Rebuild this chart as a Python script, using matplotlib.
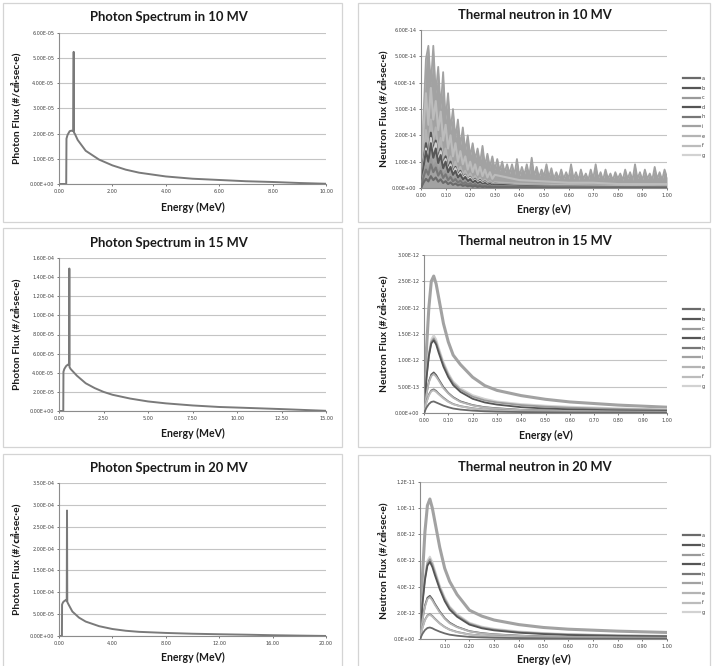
import numpy as np
import matplotlib
matplotlib.use("Agg")
import matplotlib.pyplot as plt
from matplotlib.patches import Rectangle

# ---------------- photon spectra (flux in units of 1e-5) ----------------
p10_E = [0, 0.27, 0.28, 0.32, 0.40, 0.47, 0.53, 0.55, 0.56, 0.60, 0.70, 1.0, 1.5, 2.0,
         2.5, 3.0, 4.0, 5.0, 6.0, 7.0, 8.0, 9.0, 10.0]
p10_F = [0, 0, 1.8, 1.95, 2.1, 2.12, 2.1, 5.25, 2.05, 1.98, 1.75, 1.32, 0.97, 0.74,
         0.57, 0.45, 0.30, 0.21, 0.16, 0.11, 0.08, 0.04, 0.01]

p15_E = [0, 0.24, 0.25, 0.30, 0.40, 0.50, 0.57, 0.58, 0.59, 0.65, 0.80, 1.0, 1.5, 2.0,
         2.5, 3.0, 4.0, 5.0, 6.0, 7.5, 9.0, 10.0, 12.5, 15.0]
p15_F = [0, 0, 4.1, 4.4, 4.7, 4.85, 4.8, 14.9, 4.6, 4.4, 4.1, 3.7, 2.9, 2.4,
         2.0, 1.7, 1.3, 1.0, 0.8, 0.58, 0.42, 0.36, 0.2, 0.02]

p20_E = [0, 0.22, 0.23, 0.30, 0.40, 0.50, 0.58, 0.60, 0.62, 0.70, 1.0, 1.5, 2.0, 3.0,
         4.0, 5.0, 6.0, 8.0, 10.0, 12.0, 14.0, 16.0, 18.0, 20.0]
p20_F = [0, 0, 7.2, 7.7, 8.0, 8.2, 8.0, 28.7, 7.8, 7.3, 5.6, 4.2, 3.3, 2.25,
         1.6, 1.2, 0.95, 0.7, 0.52, 0.4, 0.3, 0.18, 0.09, 0.01]

# ---------------- thermal neutron 10 MV (units of 1e-14) ----------------
E_fine = [0.00, 0.01, 0.02, 0.03, 0.04, 0.05, 0.06, 0.07, 0.08, 0.09,
          0.10, 0.11, 0.12, 0.13, 0.14, 0.15, 0.16, 0.17, 0.18, 0.19,
          0.20, 0.21, 0.22, 0.23, 0.24, 0.25, 0.26, 0.27, 0.28, 0.29,
          0.30, 0.31, 0.32, 0.33, 0.34, 0.35, 0.36, 0.37, 0.38, 0.39,
          0.40, 0.41, 0.42, 0.43, 0.44, 0.45, 0.46, 0.47, 0.48, 0.49,
          0.50, 0.51, 0.52, 0.53, 0.54, 0.55, 0.56, 0.57, 0.58, 0.59,
          0.60, 0.61, 0.62, 0.63, 0.64, 0.65, 0.66, 0.67, 0.68, 0.69,
          0.70, 0.71, 0.72, 0.73, 0.74, 0.75, 0.76, 0.77, 0.78, 0.79,
          0.80, 0.81, 0.82, 0.83, 0.84, 0.85, 0.86, 0.87, 0.88, 0.89,
          0.90, 0.91, 0.92, 0.93, 0.94, 0.95, 0.96, 0.97, 0.98, 0.99, 1.00]
E_mid = [0.00, 0.01, 0.02, 0.03, 0.04, 0.05, 0.06, 0.07, 0.08, 0.09,
         0.10, 0.11, 0.12, 0.13, 0.14, 0.15, 0.16, 0.17, 0.18, 0.19,
         0.20, 0.21, 0.22, 0.23, 0.24, 0.25, 0.26, 0.27, 0.28, 0.29,
         0.30, 0.40, 0.50, 0.60, 0.70, 0.80, 0.90, 1.00]

n10_i = [0, 2.7, 4.9, 5.4, 3.9, 5.4, 3.6, 4.6, 3.0, 4.4,
         2.6, 3.6, 2.2, 3.0, 1.9, 2.6, 1.6, 2.3, 1.4, 2.0,
         1.2, 1.7, 1.1, 1.5, 0.95, 1.6, 0.85, 1.3, 0.8, 1.2,
         0.7, 1.1, 0.65, 1.0, 0.6, 0.9, 0.55, 0.9, 0.5, 1.1,
         0.45, 0.8, 0.5, 0.9, 0.45, 1.15, 0.45, 0.8, 0.4, 0.7,
         0.45, 0.9, 0.4, 0.75, 0.35, 0.6, 0.35, 0.7, 0.35, 0.6,
         0.35, 0.9, 0.35, 0.6, 0.3, 0.7, 0.35, 0.55, 0.3, 0.7,
         0.35, 0.9, 0.35, 0.6, 0.3, 0.7, 0.35, 0.55, 0.3, 0.6,
         0.35, 0.55, 0.3, 0.7, 0.35, 0.6, 0.3, 0.9, 0.35, 0.6,
         0.3, 0.7, 0.35, 0.55, 0.3, 0.8, 0.35, 0.6, 0.3, 0.7, 0.4]
n10_f = [0, 2.2, 3.6, 2.4, 3.8, 2.6, 3.3, 2.2, 2.9, 1.8,
         2.4, 1.5, 2.0, 1.2, 1.7, 1.0, 1.4, 0.9, 1.2, 0.7,
         1.0, 0.6, 0.9, 0.5, 0.8, 0.45, 0.7, 0.4, 0.6, 0.35,
         0.5, 0.3, 0.25, 0.2, 0.2, 0.15, 0.15, 0.15]
n10_e = [0, 1.3, 2.2, 1.5, 2.6, 1.8, 2.3, 1.4, 1.9, 1.1,
         1.5, 0.9, 1.2, 0.7, 1.0, 0.6, 0.8, 0.5, 0.65, 0.4,
         0.55, 0.33, 0.45, 0.28, 0.38, 0.22, 0.32, 0.19, 0.26, 0.16,
         0.22, 0.16, 0.13, 0.11, 0.09, 0.08, 0.07, 0.06]
n10_d = [0, 1.0, 1.7, 1.2, 2.1, 1.4, 1.8, 1.1, 1.5, 0.9,
         1.2, 0.7, 1.0, 0.6, 0.8, 0.5, 0.65, 0.4, 0.5, 0.3,
         0.42, 0.25, 0.35, 0.2, 0.3, 0.17, 0.25, 0.14, 0.2, 0.12,
         0.16, 0.1, 0.08, 0.06, 0.05, 0.04, 0.035, 0.03]
n10_g = [0, 0.9, 1.5, 1.1, 1.9, 1.3, 1.7, 1.0, 1.4, 0.85,
         1.1, 0.65, 0.9, 0.55, 0.75, 0.45, 0.6, 0.37, 0.48, 0.3,
         0.4, 0.24, 0.32, 0.2, 0.27, 0.16, 0.22, 0.14, 0.18, 0.11,
         0.15, 0.1, 0.08, 0.06, 0.05, 0.045, 0.04, 0.035]
n10_b = [0, 0.8, 1.4, 1.0, 1.7, 1.15, 1.5, 0.95, 1.25, 0.75,
         1.0, 0.6, 0.8, 0.5, 0.65, 0.4, 0.52, 0.32, 0.42, 0.26,
         0.34, 0.2, 0.28, 0.17, 0.23, 0.14, 0.19, 0.12, 0.16, 0.1,
         0.13, 0.08, 0.06, 0.05, 0.04, 0.035, 0.03, 0.025]
n10_c = [0, 0.5, 0.85, 0.6, 1.1, 0.75, 0.95, 0.58, 0.8, 0.48,
         0.64, 0.38, 0.52, 0.3, 0.42, 0.25, 0.34, 0.2, 0.28, 0.16,
         0.22, 0.13, 0.18, 0.11, 0.15, 0.09, 0.12, 0.07, 0.1, 0.06,
         0.08, 0.05, 0.04, 0.03, 0.025, 0.02, 0.02, 0.015]
n10_h = [0, 0.4, 0.7, 0.5, 0.9, 0.6, 0.78, 0.47, 0.65, 0.38,
         0.52, 0.3, 0.42, 0.25, 0.34, 0.2, 0.28, 0.16, 0.22, 0.13,
         0.18, 0.1, 0.15, 0.08, 0.12, 0.07, 0.1, 0.06, 0.08, 0.05,
         0.065, 0.04, 0.03, 0.025, 0.02, 0.015, 0.015, 0.01]
n10_a = [0, 0.2, 0.35, 0.25, 0.45, 0.3, 0.4, 0.24, 0.33, 0.19,
         0.26, 0.15, 0.21, 0.12, 0.17, 0.1, 0.14, 0.08, 0.11, 0.065,
         0.09, 0.05, 0.075, 0.04, 0.06, 0.035, 0.05, 0.03, 0.04, 0.025,
         0.03, 0.02, 0.015, 0.01, 0.01, 0.008, 0.006, 0.005]

# ---------------- thermal neutron 15 / 20 MV (units of 1e-12) ----------------
E_coarse = [0.0, 0.01, 0.02, 0.03, 0.04, 0.05, 0.06, 0.08, 0.10, 0.12,
            0.15, 0.20, 0.25, 0.30, 0.40, 0.50, 0.60, 0.80, 1.00]

n15_i = [0, 1.2, 2.0, 2.5, 2.6, 2.45, 2.2, 1.7, 1.35, 1.1, 0.92, 0.68, 0.52, 0.43, 0.33, 0.26, 0.21, 0.15, 0.11]
n15_g = [0, 0.7, 1.15, 1.4, 1.48, 1.4, 1.25, 0.97, 0.76, 0.6, 0.47, 0.34, 0.27, 0.22, 0.17, 0.14, 0.12, 0.09, 0.07]
n15_c = [0, 0.67, 1.1, 1.35, 1.42, 1.34, 1.2, 0.93, 0.72, 0.57, 0.44, 0.31, 0.24, 0.2, 0.15, 0.12, 0.1, 0.075, 0.06]
n15_d = [0, 0.65, 1.08, 1.32, 1.38, 1.3, 1.15, 0.88, 0.68, 0.53, 0.4, 0.27, 0.2, 0.16, 0.11, 0.085, 0.07, 0.05, 0.04]
n15_b = [0, 0.36, 0.6, 0.73, 0.77, 0.72, 0.64, 0.49, 0.38, 0.3, 0.22, 0.15, 0.11, 0.09, 0.06, 0.05, 0.04, 0.03, 0.025]
n15_e = [0, 0.35, 0.58, 0.7, 0.74, 0.69, 0.62, 0.47, 0.37, 0.29, 0.21, 0.145, 0.105, 0.085, 0.058, 0.046, 0.038, 0.028, 0.023]
n15_h = [0, 0.21, 0.35, 0.43, 0.45, 0.42, 0.37, 0.29, 0.22, 0.17, 0.13, 0.09, 0.065, 0.05, 0.035, 0.028, 0.022, 0.017, 0.014]
n15_f = [0, 0.2, 0.33, 0.41, 0.43, 0.4, 0.355, 0.275, 0.21, 0.165, 0.125, 0.085, 0.062, 0.048, 0.034, 0.027, 0.021, 0.016, 0.013]
n15_a = [0, 0.1, 0.17, 0.21, 0.22, 0.2, 0.18, 0.14, 0.11, 0.085, 0.065, 0.045, 0.032, 0.025, 0.018, 0.014, 0.011, 0.009, 0.007]

n20_i = [0, 4.9, 8.2, 10.2, 10.7, 10.0, 9.0, 7.0, 5.4, 4.4, 3.4, 2.2, 1.75, 1.45, 1.1, 0.88, 0.75, 0.6, 0.5]
n20_g = [0, 2.9, 4.8, 6.0, 6.3, 5.9, 5.3, 4.1, 3.2, 2.5, 1.9, 1.25, 0.95, 0.78, 0.58, 0.46, 0.38, 0.3, 0.25]
n20_c = [0, 2.8, 4.65, 5.8, 6.1, 5.7, 5.1, 3.95, 3.05, 2.4, 1.8, 1.18, 0.88, 0.72, 0.53, 0.42, 0.35, 0.27, 0.22]
n20_d = [0, 2.7, 4.5, 5.6, 5.9, 5.5, 4.9, 3.8, 2.9, 2.25, 1.7, 1.1, 0.82, 0.66, 0.48, 0.38, 0.31, 0.24, 0.2]
n20_b = [0, 1.5, 2.55, 3.15, 3.3, 3.05, 2.7, 2.1, 1.6, 1.25, 0.93, 0.6, 0.45, 0.36, 0.26, 0.2, 0.17, 0.13, 0.1]
n20_e = [0, 1.45, 2.45, 3.05, 3.2, 2.95, 2.62, 2.03, 1.55, 1.2, 0.9, 0.58, 0.43, 0.35, 0.25, 0.19, 0.16, 0.12, 0.1]
n20_h = [0, 0.88, 1.47, 1.8, 1.9, 1.76, 1.56, 1.2, 0.92, 0.72, 0.54, 0.35, 0.26, 0.2, 0.15, 0.12, 0.1, 0.075, 0.06]
n20_f = [0, 0.85, 1.43, 1.75, 1.85, 1.71, 1.52, 1.17, 0.9, 0.7, 0.52, 0.34, 0.25, 0.2, 0.145, 0.115, 0.095, 0.072, 0.058]
n20_a = [0, 0.4, 0.68, 0.84, 0.88, 0.82, 0.72, 0.56, 0.43, 0.33, 0.25, 0.16, 0.12, 0.095, 0.07, 0.055, 0.045, 0.035, 0.028]

series_names = ["a", "b", "c", "d", "h", "i", "e", "f", "g"]
series_colors = {"a": "#6a6a6a", "b": "#565656", "c": "#9a9a9a", "d": "#555555", "h": "#777777",
                 "i": "#a2a2a2", "e": "#b4b4b4", "f": "#bcbcbc", "g": "#d2d2d2"}

# ---------------- figure ----------------
W, H = 713, 666
fig = plt.figure(figsize=(W / 100, H / 100), dpi=100)
BOLD = ["Lato", "Noto Sans CJK KR", "DejaVu Sans"]
GRID = "#c4c4c4"
TICKC = "#404040"


def fx(px):
    return px / W


def fy(py):
    return 1 - py / H


def box(x0, y0, x1, y1):
    fig.add_artist(Rectangle((fx(x0), fy(y1)), (x1 - x0) / W, (y1 - y0) / H,
                             transform=fig.transFigure, fill=False, ec="#d4d4d4", lw=0.9))


def make_axes(l, t, r, b):
    ax = fig.add_axes([fx(l), fy(b), (r - l) / W, (b - t) / H])
    for s in ["top", "right"]:
        ax.spines[s].set_visible(False)
    for s in ["left", "bottom"]:
        ax.spines[s].set_color("#8c8c8c")
        ax.spines[s].set_linewidth(0.8)
    ax.tick_params(labelsize=3.5, colors=TICKC, length=1.5, width=0.5, pad=2)
    ax.yaxis.grid(True, color=GRID, lw=0.8)
    ax.set_axisbelow(True)
    return ax


def set_ticks(ax, xt, xfmt, yt, yfmt):
    ax.set_xticks(xt)
    ax.set_xticklabels([xfmt.format(v) for v in xt])
    ax.set_yticks(yt)
    ax.set_yticklabels([yfmt.format(v) for v in yt])
    ax.set_xlim(0, xt[-1])
    ax.set_ylim(yt[0], yt[-1])


def texts(title, tx, ty, xlabel, xx, xy, ylabel, yx, yy):
    fig.text(fx(tx), fy(ty), title, ha="center", va="center", fontsize=9.4,
             fontweight="bold", family=BOLD, color="#1a1a1a")
    fig.text(fx(xx), fy(xy), xlabel, ha="center", va="center", fontsize=7.6,
             fontweight="bold", family=BOLD, color="#1a1a1a")
    fig.text(fx(yx), fy(yy), ylabel, ha="center", va="center", fontsize=7.4,
             fontweight="bold", family=BOLD, color="#1a1a1a", rotation=90)


# panel boxes
box(3, 3, 342, 222)
box(358, 3, 710, 222)
box(3, 228, 342, 447)
box(358, 228, 710, 447)
box(3, 454, 342, 668)
box(358, 455, 710, 668)

PH_LABEL = "Photon Flux (#/㎠·sec·e)"
NE_LABEL = "Neutron Flux (#/㎠·sec·e)"

# ---- photon panels ----
photon_panels = [
    (p10_E, p10_F, (59, 33, 326, 184), [0, 2, 4, 6, 8, 10], [0, 1e-5, 2e-5, 3e-5, 4e-5, 5e-5, 6e-5],
     "Photon Spectrum in 10 MV", 17, 207),
    (p15_E, p15_F, (59, 258, 326, 411), [0, 2.5, 5, 7.5, 10, 12.5, 15],
     [0, 2e-5, 4e-5, 6e-5, 8e-5, 1e-4, 1.2e-4, 1.4e-4, 1.6e-4],
     "Photon Spectrum in 15 MV", 243, 433),
    (p20_E, p20_F, (59, 483, 326, 636), [0, 4, 8, 12, 16, 20],
     [0, 5e-5, 1e-4, 1.5e-4, 2e-4, 2.5e-4, 3e-4, 3.5e-4],
     "Photon Spectrum in 20 MV", 468, 657),
]
for E, F, (l, t, r, b), xt, yt, title, ty, xy in photon_panels:
    ax = make_axes(l, t, r, b)
    ax.plot(E, np.array(F) * 1e-5, color="#7a7a7a", lw=1.4)
    set_ticks(ax, xt, "{:.2f}", yt, "{:.2E}")
    texts(title, 169, ty, "Energy (MeV)", (l + r) / 2, xy, PH_LABEL, 16, (t + b) / 2)

# ---- neutron panels ----
n10 = {"a": (E_mid, n10_a), "b": (E_mid, n10_b), "c": (E_mid, n10_c), "d": (E_mid, n10_d),
       "h": (E_mid, n10_h), "i": (E_fine, n10_i), "e": (E_mid, n10_e), "f": (E_mid, n10_f),
       "g": (E_mid, n10_g)}
n15 = {"a": (E_coarse, n15_a), "b": (E_coarse, n15_b), "c": (E_coarse, n15_c), "d": (E_coarse, n15_d),
       "h": (E_coarse, n15_h), "i": (E_coarse, n15_i), "e": (E_coarse, n15_e), "f": (E_coarse, n15_f),
       "g": (E_coarse, n15_g)}
n20 = {"a": (E_coarse, n20_a), "b": (E_coarse, n20_b), "c": (E_coarse, n20_c), "d": (E_coarse, n20_d),
       "h": (E_coarse, n20_h), "i": (E_coarse, n20_i), "e": (E_coarse, n20_e), "f": (E_coarse, n20_f),
       "g": (E_coarse, n20_g)}

xt_n = [0, 0.1, 0.2, 0.3, 0.4, 0.5, 0.6, 0.7, 0.8, 0.9, 1.0]
neutron_panels = [
    (n10, 1e-14, (421, 30, 667, 188), xt_n, [0, 1e-14, 2e-14, 3e-14, 4e-14, 5e-14, 6e-14], "{:.2E}",
     "Thermal neutron in 10 MV", 15, 209, 117, 1.5, 1.3, True),
    (n15, 1e-12, (424, 255, 667, 413), xt_n, [0, 5e-13, 1e-12, 1.5e-12, 2e-12, 2.5e-12, 3e-12], "{:.2E}",
     "Thermal neutron in 15 MV", 241, 435, 348, 1.3, 2.2, False),
    (n20, 1e-12, (420, 482, 667, 639), xt_n, [0, 2e-12, 4e-12, 6e-12, 8e-12, 1e-11, 1.2e-11], "{:.1E}",
     "Thermal neutron in 20 MV", 467, 659, 574, 1.3, 2.2, False),
]
for data, unit, (l, t, r, b), xt, yt, yfmt, title, ty, xy, ly, lw, lw_top, noisy in neutron_panels:
    ax = make_axes(l, t, r, b)
    peak_all = max(max(v) for _, v in data.values())
    for name in series_names:
        E, v = data[name]
        z = 2 + (1 - max(v) / peak_all)
        top = max(v) == peak_all
        ax.plot(E, np.array(v) * unit, color=series_colors[name], lw=lw_top if top else lw,
                zorder=z, label=name)
        if noisy and top:
            # dense noise in the original reads as a solid band under the spikes
            ax.fill_between(E, 0, np.array(v) * unit, color=series_colors[name], lw=0, zorder=z)
    set_ticks(ax, xt, "{:.2f}", yt, yfmt)
    if title.endswith("20 MV"):
        ax.set_xticks(xt[1:])
        ax.set_xticklabels(["{:.2f}".format(v) for v in xt[1:]])
    leg_handles = [plt.Line2D([], [], color=series_colors[n], lw=1.6) for n in series_names]
    fig.legend(leg_handles, series_names, loc="center left", bbox_to_anchor=(fx(683), fy(ly)),
               frameon=False, fontsize=3.6, handlelength=3.4, handletextpad=0.4,
               labelspacing=0.92, borderaxespad=0, borderpad=0, labelcolor="#404040")
    texts(title, 535, ty, "Energy (eV)", (l + r) / 2, xy, NE_LABEL, 383, (t + b) / 2)

fig.savefig("out.png", dpi=100, facecolor="white")
